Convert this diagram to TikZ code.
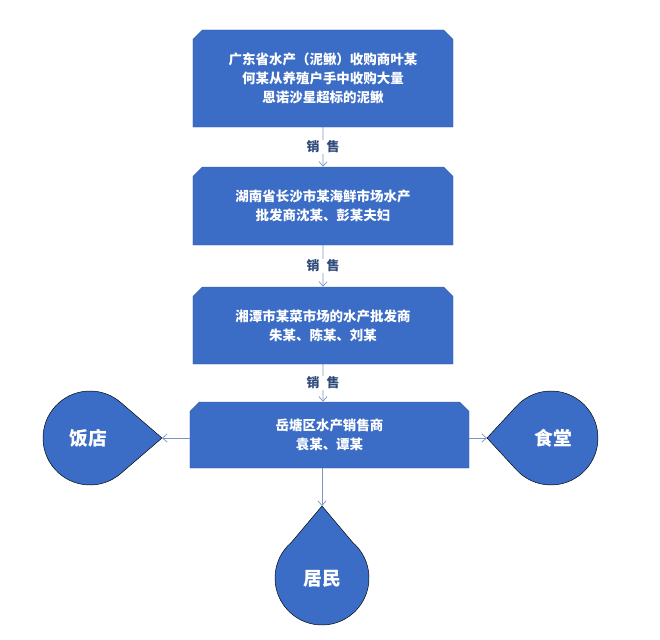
\documentclass[tikz,border=0pt]{standalone}
\usepackage{fontspec}
\setmainfont{Noto Sans CJK SC}
\usetikzlibrary{arrows.meta,shapes.misc,calc}
\definecolor{boxblue}{HTML}{3B6CC6}
\definecolor{linegray}{HTML}{7A95C2}
\definecolor{labelblue}{HTML}{2E4A7A}
\tikzset{
    stepbox/.style={chamfered rectangle, chamfered rectangle corners={north west,north east},
        chamfered rectangle xsep=4pt, chamfered rectangle ysep=4pt,
        fill=boxblue, draw=boxblue!80!black, text=white, font=\fontsize{11.5}{16}\selectfont\bfseries,
        align=center, inner sep=0pt},
    flow/.style={draw=linegray, -{Straight Barb[length=4pt,width=7pt]}, line width=0.6pt},
    sale/.style={text=labelblue, font=\fontsize{11}{12}\selectfont\bfseries, fill=white, inner sep=1pt},
    drop/.style={fill=boxblue},
    droptext/.style={text=white, font=\fontsize{16}{18}\selectfont\bfseries}
}
\begin{document}
\begin{tikzpicture}[x=0.03cm,y=-0.03cm]
    \useasboundingbox (0,0) rectangle (660,640);

    % BOXES
    \node[stepbox, minimum width=7.8cm, minimum height=2.91cm] (buyer) at (323,78.5)
        {广东省水产（泥鳅）收购商叶某\\何某从养殖户手中收购大量\\恩诺沙星超标的泥鳅};
    \node[stepbox, minimum width=7.8cm, minimum height=2.34cm] (hunan) at (323,206)
        {湖南省长沙市某海鲜市场水产\\批发商沈某、彭某夫妇};
    \node[stepbox, minimum width=7.8cm, minimum height=2.31cm] (xiangtan) at (323,325.5)
        {湘潭市某菜市场的水产批发商\\朱某、陈某、刘某};
    \node[stepbox, minimum width=8.37cm, minimum height=1.98cm] (yuetang) at (329.5,435)
        {岳塘区水产销售商\\袁某、谭某};

    % DROPS
    \draw[drop] (162,438) -- ($(90,438)+(49.2:47)$) arc (49.2:310.8:47) -- cycle;
    \node[droptext] (hotel) at (88,438) {饭店};
    \coordinate (hoteltip) at (162,438);
    \draw[drop] (487,438) -- ($(551,438)+(137.3:47)$) arc (137.3:-137.3:47) -- cycle;
    \node[droptext] (canteen) at (553,438) {食堂};
    \coordinate (canteentip) at (487,438);
    \draw[drop] (322,506) -- ($(322,578)+(229.3:47)$) arc (229.3:-49.3:47) -- cycle;
    \node[droptext] (resident) at (322,579) {居民};
    \coordinate (residenttip) at (322,506);

    % ARROWS
    \draw[flow] (buyer) -- (hunan) node[midway, sale]{销\hspace{6pt}售};
    \draw[flow] (hunan) -- (xiangtan) node[midway, sale]{销\hspace{6pt}售};
    \draw[flow] (xiangtan) -- (xiangtan |- yuetang.north) node[midway, sale]{销\hspace{6pt}售};
    \draw[flow] (yuetang.west |- hoteltip) -- (hoteltip);
    \draw[flow] (yuetang.east |- canteentip) -- (canteentip);
    \draw[flow] (yuetang.south -| residenttip) -- (residenttip);
\end{tikzpicture}
\end{document}
